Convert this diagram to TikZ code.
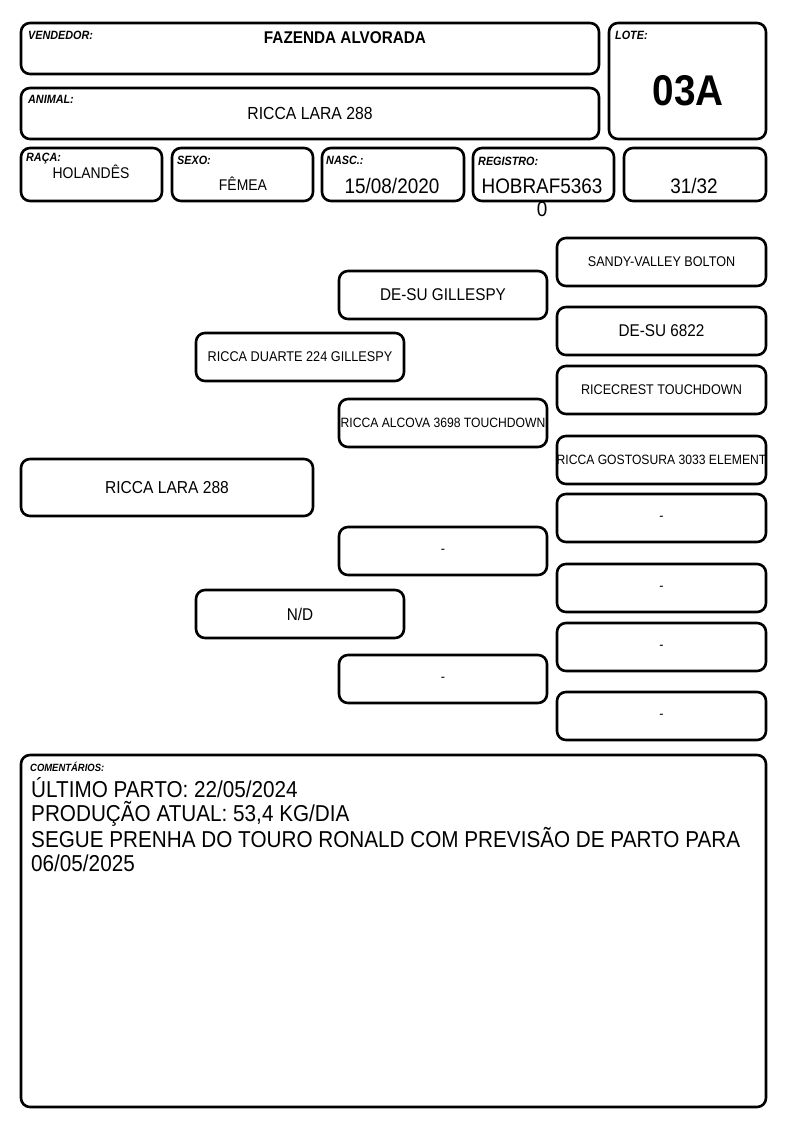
\documentclass[tikz,border=0pt]{standalone}
\usepackage{fontspec}
\setmainfont[FakeStretch=0.9]{Liberation Sans}
\newcommand\fsz[1]{\fontsize{#1}{#1}\selectfont}
\tikzset{
  frame/.style={line width=2.6,rounded corners=9},
  tag/.style={anchor=west,inner sep=0,font=\fsz{12}\bfseries\itshape},
  info/.style={inner sep=0,font=\fsz{15.5}},
  big/.style={inner sep=0,font=\fsz{21}},
}
\begin{document}
\begin{tikzpicture}[x=1pt,y=-1pt]
\useasboundingbox (0,0) rectangle (794,1123);
% cabecalho
\draw[frame] (21,23) rectangle (599,74);
\draw[frame] (21,88) rectangle (599,139);
\draw[frame] (609,23) rectangle (766,139);
\node[tag] (vendedorlbl) at (28,35) {VENDEDOR:};
\node[inner sep=0,font=\fsz{17}\bfseries] (vendedor) at (345,38) {FAZENDA ALVORADA};
\node[tag] (animallbl) at (28,99) {ANIMAL:};
\node[inner sep=0,font=\fsz{17.5}] (animal) at (310,113) {RICCA LARA 288};
\node[tag] (lotelbl) at (615,35) {LOTE:};
\node[inner sep=0,font=\fsz{43}\bfseries] (lote) at (688,91) {03A};
% linha de dados
\foreach \xa/\xb in {21/162,172/313,322/464,473/614,624/766}{
  \draw[frame] (\xa,148) rectangle (\xb,201);
}
\node[tag] (racalbl) at (26,159) {RAÇA:};
\node[info] (raca) at (91,172) {HOLANDÊS};
\node[tag] (sexolbl) at (177,160) {SEXO:};
\node[info] (sexo) at (243,184) {FÊMEA};
\node[tag] (nasclbl) at (326,160) {NASC.:};
\node[big] (nasc) at (392,186) {15/08/2020};
\node[tag] (registrolbl) at (478,161) {REGISTRO:};
\node[big,align=center,font=\fontsize{21}{23}\selectfont,anchor=base] (registro) at (542,216.5) {HOBRAF5363\\0};
\node[big] (grau) at (694,186) {31/32};
% genealogia
\draw[frame] (21,459) rectangle (313,516);
\node[inner sep=0,font=\fsz{17.3}] (animalped) at (167,488) {RICCA LARA 288};
\foreach \top/\sz/\nome [count=\i] in {333/14.1/{RICCA DUARTE 224 GILLESPY},590/17/{N/D}}{
  \draw[frame] (196,\top) rectangle (404,\top+48);
  \node[inner sep=0,font=\fsz{\sz}] (pais\i) at (300,\top+24) {\nome};
}
\foreach \top/\sz/\nome [count=\i] in {271/17/{DE-SU GILLESPY},399/13.5/{RICCA ALCOVA 3698 TOUCHDOWN},527/14/{-},655/14/{-}}{
  \draw[frame] (339,\top) rectangle (547,\top+48);
  \node[inner sep=0,font=\fsz{\sz}] (avos\i) at (443,\top+24) {\nome};
}
\foreach \top/\sz/\nome [count=\i] in {238/14/{SANDY-VALLEY BOLTON},307/17/{DE-SU 6822},366/14/{RICECREST TOUCHDOWN},436/13.5/{RICCA GOSTOSURA 3033 ELEMENT},494/14/{-},564/14/{-},623/14/{-},692/14/{-}}{
  \draw[frame] (557,\top) rectangle (766,\top+48);
  \node[inner sep=0,font=\fsz{\sz}] (bisavos\i) at (661.5,\top+24) {\nome};
}
% comentarios
\draw[frame] (21,755) rectangle (766,1107);
\node[tag,font=\fsz{10.5}\bfseries\itshape] (comlbl) at (30,767) {COMENTÁRIOS:};
\node[inner sep=0,anchor=base west,align=left,font=\fontsize{23}{23.7}\selectfont] (com) at (31,871)
  {ÚLTIMO PARTO: 22/05/2024\\PRODUÇÃO ATUAL: 53,4 KG/DIA\\SEGUE PRENHA DO TOURO RONALD COM PREVISÃO DE PARTO PARA\\06/05/2025};
\end{tikzpicture}
\end{document}
